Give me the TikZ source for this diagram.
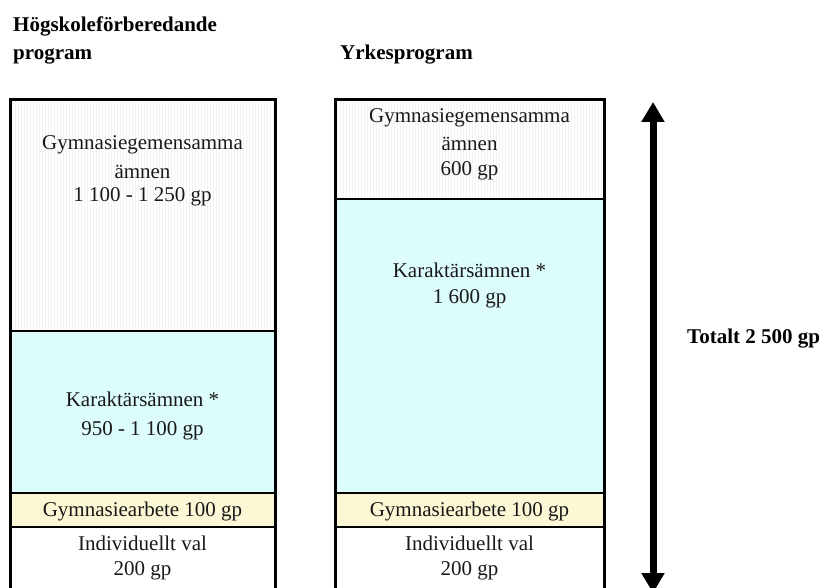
\documentclass[tikz,border=0pt]{standalone}
\usepackage{fontspec}
\setmainfont{Liberation Serif}
\usetikzlibrary{arrows.meta}
\definecolor{karfill}{HTML}{DDFCFC}
\definecolor{arbfill}{HTML}{FCF7D4}
\definecolor{stripe}{HTML}{F2F2F2}
\tikzset{
  colframe/.style={draw=black, line width=3pt},
  divider/.style={draw=black, line width=2.5pt},
  boxtext/.style={font=\fontsize{21}{25}\selectfont, anchor=base, inner sep=0pt, text=black!90},
  headtext/.style={font=\fontsize{21}{25}\selectfont\bfseries, anchor=base west, inner sep=0pt},
  totalarrow/.style={line width=7pt, {Triangle[width=22pt,length=20pt]}-{Triangle[width=22pt,length=20pt]}}
}
\begin{document}
\begin{tikzpicture}[x=1pt,y=-1pt]
\useasboundingbox (0,0) rectangle (830,588);

% ---- fills: left column (Högskoleförberedande)
\fill[white] (10,100) rectangle (275,331);
\begin{scope}
  \clip (10,100) rectangle (275,331);
  \foreach \x in {12,15,...,275} \draw[stripe, line width=0.8pt] (\x,100) -- (\x,331);
\end{scope}
\fill[karfill] (10,331) rectangle (275,493);
\fill[arbfill] (10,493) rectangle (275,527);
\fill[white] (10,527) rectangle (275,600);

% ---- fills: right column (Yrkesprogram)
\fill[white] (335,100) rectangle (604,199);
\begin{scope}
  \clip (335,100) rectangle (604,199);
  \foreach \x in {337,340,...,604} \draw[stripe, line width=0.8pt] (\x,100) -- (\x,199);
\end{scope}
\fill[karfill] (335,199) rectangle (604,493);
\fill[arbfill] (335,493) rectangle (604,527);
\fill[white] (335,527) rectangle (604,600);

% ---- dividers
\draw[divider] (10,331) -- (275,331);
\draw[divider] (10,493) -- (275,493);
\draw[divider] (10,527) -- (275,527);
\draw[divider] (335,199) -- (604,199);
\draw[divider] (335,493) -- (604,493);
\draw[divider] (335,527) -- (604,527);

% ---- column frames (open at the bottom edge)
\draw[colframe] (10,600) -- (10,100) -- (275,100) -- (275,600);
\draw[colframe] (335,600) -- (335,100) -- (604,100) -- (604,600);

% ---- headings
\node[headtext] (hHog1) at (13,32) {Högskoleförberedande};
\node[headtext] (hHog2) at (13,60) {program};
\node[headtext] (hYrk) at (340,60) {Yrkesprogram};

% ---- left column texts
\node[boxtext] (lGem1) at (142.5,150) {Gymnasiegemensamma};
\node[boxtext] (lGem2) at (142.5,179) {ämnen};
\node[boxtext] (lGem3) at (142.5,202) {1 100 - 1 250 gp};
\node[boxtext] (lKar1) at (142.5,406) {Karaktärsämnen *};
\node[boxtext] (lKar2) at (142.5,435) {950 - 1 100 gp};
\node[boxtext] (lArb) at (142.5,516) {Gymnasiearbete 100 gp};
\node[boxtext] (lInd1) at (142.5,550) {Individuellt val};
\node[boxtext] (lInd2) at (142.5,575) {200 gp};

% ---- right column texts
\node[boxtext] (rGem1) at (469.5,123) {Gymnasiegemensamma};
\node[boxtext] (rGem2) at (469.5,151) {ämnen};
\node[boxtext] (rGem3) at (469.5,176) {600 gp};
\node[boxtext] (rKar1) at (469.5,277) {Karaktärsämnen *};
\node[boxtext] (rKar2) at (469.5,303) {1 600 gp};
\node[boxtext] (rArb) at (469.5,516) {Gymnasiearbete 100 gp};
\node[boxtext] (rInd1) at (469.5,550) {Individuellt val};
\node[boxtext] (rInd2) at (469.5,575) {200 gp};

% ---- total span arrow
\coordinate (arrTop) at (653,102);
\coordinate (arrBot) at (653,593);
\draw[totalarrow] (arrTop) -- (arrBot);
\node[headtext] (tot) at (687,343) {Totalt 2 500 gp};
\end{tikzpicture}
\end{document}
